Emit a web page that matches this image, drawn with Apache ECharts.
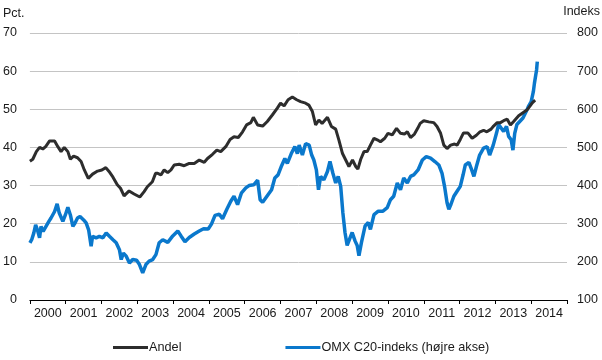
<!DOCTYPE html>
<html>
<head>
<meta charset="utf-8">
<script src="https://cdn.jsdelivr.net/npm/echarts@6/dist/echarts.min.js"></script>
<style>html,body{margin:0;padding:0;background:#fff}#c{width:602px;height:360px}</style>
</head>
<body>
<div id="c"></div>
<script>
var years = ['2000','2001','2002','2003','2004','2005','2006','2007','2008','2009','2010','2011','2012','2013','2014'];

var andelX = [2000.00,2000.08,2000.18,2000.27,2000.36,2000.44,2000.55,2000.69,2000.78,2000.87,2000.96,2001.06,2001.13,2001.22,2001.33,2001.43,2001.52,2001.63,2001.75,2001.89,2002.01,2002.12,2002.21,2002.32,2002.44,2002.53,2002.63,2002.77,2002.91,2003.07,2003.19,2003.28,2003.42,2003.51,2003.57,2003.66,2003.75,2003.85,2003.94,2004.03,2004.17,2004.31,2004.45,2004.59,2004.73,2004.87,2004.96,2005.10,2005.22,2005.33,2005.47,2005.59,2005.70,2005.82,2005.94,2006.05,2006.17,2006.24,2006.36,2006.50,2006.63,2006.77,2006.91,2007.00,2007.10,2007.21,2007.33,2007.45,2007.56,2007.70,2007.79,2007.89,2007.98,2008.07,2008.16,2008.31,2008.42,2008.54,2008.63,2008.73,2008.82,2008.91,2009.01,2009.10,2009.16,2009.24,2009.33,2009.42,2009.51,2009.61,2009.70,2009.79,2009.91,2010.00,2010.12,2010.24,2010.35,2010.46,2010.54,2010.63,2010.74,2010.83,2010.90,2011.00,2011.14,2011.28,2011.37,2011.47,2011.56,2011.65,2011.75,2011.86,2011.93,2012.02,2012.11,2012.23,2012.35,2012.47,2012.57,2012.67,2012.76,2012.88,2012.95,2013.05,2013.14,2013.23,2013.33,2013.42,2013.51,2013.65,2013.77,2013.88,2013.97,2014.03,2014.11];
var andelY = [36.4,36.9,38.9,40.0,39.6,40.2,41.7,41.7,40.2,38.9,40.0,38.9,36.9,37.7,37.3,36.3,34.1,31.9,33.0,33.8,34.1,34.7,33.7,32.2,30.2,29.3,27.3,28.6,27.8,27.0,28.4,29.7,31.0,33.2,33.2,32.8,34.1,33.4,34.1,35.4,35.6,35.2,35.8,35.8,36.7,36.1,37.1,38.2,39.3,38.9,40.2,42.1,42.8,42.6,44.1,45.9,46.5,47.9,45.9,45.6,46.8,48.5,50.3,51.6,50.9,52.5,53.2,52.5,52.0,51.6,51.1,49.4,45.9,47.2,46.3,47.9,45.5,44.8,41.9,38.4,36.7,35.0,36.7,35.0,34.3,36.9,38.9,38.9,40.6,42.4,42.0,41.5,42.4,43.7,43.3,45.0,43.7,43.5,44.1,42.6,43.5,45.0,46.3,47.0,46.7,46.5,45.5,43.7,40.6,39.7,40.6,40.9,40.6,42.1,43.8,43.8,42.4,43.2,44.1,44.5,44.1,44.8,45.6,46.5,46.5,47.0,47.4,45.9,46.8,48.3,49.1,49.8,50.9,51.7,52.4];

var omxX = [2000.00,2000.05,2000.11,2000.16,2000.21,2000.27,2000.31,2000.37,2000.45,2000.53,2000.59,2000.69,2000.76,2000.82,2000.92,2000.99,2001.06,2001.13,2001.20,2001.26,2001.33,2001.40,2001.50,2001.57,2001.64,2001.71,2001.75,2001.85,2001.94,2002.04,2002.13,2002.22,2002.32,2002.41,2002.50,2002.55,2002.61,2002.69,2002.78,2002.87,2002.98,2003.06,2003.15,2003.24,2003.33,2003.43,2003.52,2003.61,2003.71,2003.85,2003.99,2004.13,2004.22,2004.33,2004.45,2004.59,2004.73,2004.85,2004.98,2005.07,2005.17,2005.29,2005.38,2005.50,2005.61,2005.70,2005.80,2005.91,2006.03,2006.12,2006.25,2006.36,2006.43,2006.50,2006.62,2006.75,2006.84,2006.93,2007.03,2007.12,2007.19,2007.30,2007.40,2007.47,2007.52,2007.61,2007.70,2007.80,2007.87,2007.93,2008.00,2008.06,2008.12,2008.21,2008.31,2008.38,2008.46,2008.54,2008.61,2008.68,2008.74,2008.80,2008.86,2008.93,2009.00,2009.08,2009.14,2009.19,2009.26,2009.36,2009.45,2009.51,2009.61,2009.73,2009.86,2009.98,2010.07,2010.16,2010.26,2010.35,2010.44,2010.54,2010.63,2010.72,2010.84,2010.96,2011.07,2011.19,2011.31,2011.42,2011.51,2011.58,2011.65,2011.70,2011.76,2011.84,2011.93,2012.02,2012.10,2012.16,2012.26,2012.32,2012.40,2012.47,2012.56,2012.67,2012.77,2012.84,2012.94,2013.03,2013.09,2013.16,2013.23,2013.31,2013.37,2013.44,2013.49,2013.54,2013.60,2013.68,2013.77,2013.86,2013.92,2014.00,2014.06,2014.09,2014.15,2014.17];
var omxY = [250,258,276,297,284,263,293,280,293,306,315,332,352,328,306,323,343,323,293,302,315,319,310,302,284,241,267,263,267,263,276,267,258,250,232,206,223,215,197,206,204,193,171,193,202,206,219,250,258,251,268,281,268,253,264,273,281,287,286,299,322,325,313,338,359,372,350,381,394,400,402,414,363,356,372,389,420,428,452,471,458,484,502,484,506,480,510,506,480,467,441,389,424,415,437,463,433,407,424,398,329,277,243,260,277,255,243,216,251,294,303,285,324,333,333,342,363,372,407,389,420,407,424,428,441,467,476,472,463,454,432,398,355,338,351,372,385,398,429,454,461,446,424,450,480,498,502,480,506,537,560,551,542,555,529,520,493,537,560,568,577,594,607,620,646,668,703,725];

var leftTicks = {min: 0, max: 70, interval: 10};
var rightTicks = {min: 100, max: 800, interval: 100};

function zip(xs, ys) { return xs.map(function (x, i) { return [x, ys[i]]; }); }

var FONT = '"Liberation Sans", Arial, sans-serif';
var chart = echarts.init(document.getElementById('c'), null, {renderer: 'canvas'});
chart.setOption({
  animation: false,
  backgroundColor: '#ffffff',
  grid: {left: 29, right: 35, top: 33, bottom: 60, containLabel: false},
  xAxis: [
    {type: 'value', min: 2000, max: 2015, show: false, position: 'bottom'},
    {type: 'category', data: years, position: 'bottom', boundaryGap: true,
     axisLine: {lineStyle: {color: '#000', width: 1}},
     axisTick: {show: true, length: 4, interval: 0, alignWithLabel: false, lineStyle: {color: '#000'}},
     axisLabel: {interval: 0, color: '#1a1a1a', fontSize: 12.5, fontFamily: FONT, margin: 7},
     splitLine: {show: false}}
  ],
  yAxis: [
    {type: 'value', min: leftTicks.min, max: leftTicks.max, interval: leftTicks.interval, position: 'left',
     axisLine: {show: false}, axisTick: {show: false},
     axisLabel: {color: '#1a1a1a', fontSize: 12.5, fontFamily: FONT, margin: 13},
     splitLine: {show: true, lineStyle: {color: '#c4c4c4', width: 1}}},
    {type: 'value', min: rightTicks.min, max: rightTicks.max, interval: rightTicks.interval, position: 'right',
     axisLine: {show: false}, axisTick: {show: false},
     axisLabel: {color: '#1a1a1a', fontSize: 12.5, fontFamily: FONT, margin: 10},
     splitLine: {show: false}}
  ],
  legend: {
    left: 108, top: 336, itemWidth: 35, itemHeight: 14, itemGap: 104,
    icon: 'path://M0,6L35,6L35,9L0,9Z',
    textStyle: {color: '#1a1a1a', fontSize: 12.7, fontFamily: FONT, padding: [0, 0, 0, -4]},
    data: ['Andel', 'OMX C20-indeks (højre akse)']
  },
  graphic: [
    {type: 'text', left: 3, top: 7, style: {text: 'Pct.', fill: '#1a1a1a', font: '12.5px ' + FONT}},
    {type: 'text', right: 2, top: 5, style: {text: 'Indeks', fill: '#1a1a1a', font: '12.5px ' + FONT}}
  ],
  series: [
    {name: 'OMX C20-indeks (højre akse)', type: 'line', xAxisIndex: 0, yAxisIndex: 1, data: zip(omxX, omxY),
     showSymbol: false, symbol: 'none', z: 2, color: '#0a78cc',
     lineStyle: {color: '#0a78cc', width: 3.5}},
    {name: 'Andel', type: 'line', xAxisIndex: 0, yAxisIndex: 0, data: zip(andelX, andelY),
     showSymbol: false, symbol: 'none', z: 3, color: '#2d2d2d',
     lineStyle: {color: '#2d2d2d', width: 3}}
  ]
});
</script>
</body>
</html>
